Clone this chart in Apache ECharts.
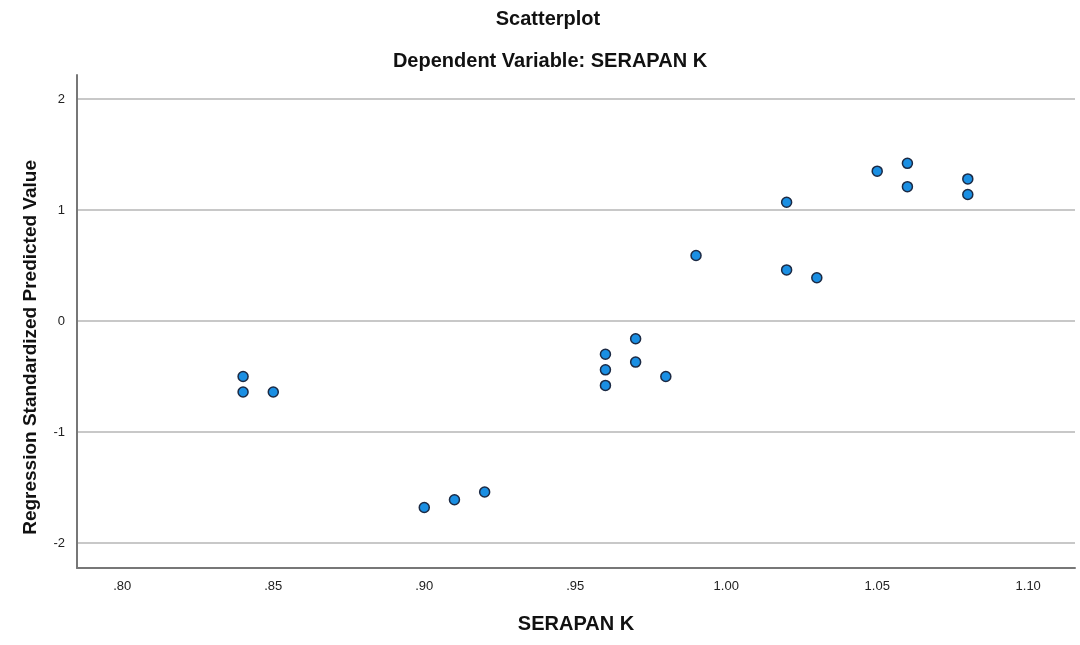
<!DOCTYPE html>
<html><head><meta charset="utf-8">
<script src="https://cdn.jsdelivr.net/npm/echarts@6/dist/echarts.min.js"></script>
<style>html,body{margin:0;padding:0;background:#fff}#c{width:1080px;height:645px}</style>
</head><body><div id="c"></div>
<script>
const serapanK = [0.84,0.84,0.85,0.90,0.91,0.92,0.96,0.96,0.96,0.97,0.97,0.98,0.99,1.02,1.02,1.03,1.05,1.06,1.06,1.08,1.08];
const predicted = [-0.50,-0.64,-0.64,-1.68,-1.61,-1.54,-0.30,-0.44,-0.58,-0.16,-0.37,-0.50,0.59,1.07,0.46,0.39,1.35,1.42,1.21,1.28,1.14];
const xTicks = [0.80,0.85,0.90,0.95,1.00,1.05,1.10];
const yTicks = [-2,-1,0,1,2];

const data = serapanK.map((x,i)=>[x,predicted[i]]);
const font = 'Liberation Sans, Arial, sans-serif';
const chart = echarts.init(document.getElementById('c'));
chart.setOption({
  animation:false,
  backgroundColor:'#fff',
  title:[
    {text:'Scatterplot',left:543,top:4,textAlign:'center',textStyle:{fontFamily:font,fontSize:20,fontWeight:'bold',color:'#111'}},
    {text:'Dependent Variable: SERAPAN K',left:545,top:46,textAlign:'center',textStyle:{fontFamily:font,fontSize:20,fontWeight:'bold',color:'#111'}}
  ],
  grid:{left:77,right:5,top:75,bottom:77},
  xAxis:{
    type:'value',min:0.785,max:1.1155,
    name:'SERAPAN K',nameLocation:'middle',nameGap:46,
    nameTextStyle:{fontFamily:font,fontSize:20,fontWeight:'bold',color:'#111'},
    axisLine:{show:true,onZero:false,lineStyle:{color:'#777',width:2}},
    axisTick:{show:false,customValues:xTicks},
    axisLabel:{customValues:xTicks,fontFamily:font,fontSize:13,color:'#222',margin:12,
      formatter:v=>{let s=v.toFixed(2);return s.startsWith('0')?s.slice(1):s;}},
    splitLine:{show:false}
  },
  yAxis:{
    type:'value',min:-2.225,max:2.216,
    axisLine:{show:true,onZero:false,lineStyle:{color:'#777',width:2}},
    axisTick:{show:false,customValues:yTicks},
    axisLabel:{customValues:yTicks,fontFamily:font,fontSize:13,color:'#222',margin:12,
      formatter:v=>String(Math.round(v))},
    splitLine:{show:true,lineStyle:{color:'#c8c8c8',width:2}}
  },
  graphic:[{type:'text',left:21,top:160,rotation:Math.PI/2,
    style:{text:'Regression Standardized Predicted Value',font:'bold 19px '+font,fill:'#111'}}],
  series:[{type:'scatter',data:data,symbolSize:10,
    itemStyle:{color:'#1a8fe3',borderColor:'#1c2a44',borderWidth:1.5,opacity:1}}]
});
</script></body></html>
